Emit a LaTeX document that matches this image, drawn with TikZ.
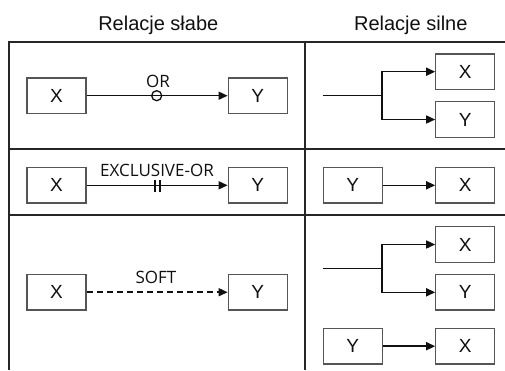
\documentclass[tikz,border=0pt]{standalone}
\usepackage{fontspec}
\setmainfont{Liberation Sans}
\newfontfamily\labelfont{Open Sans}
\usetikzlibrary{arrows.meta}
\definecolor{gridline}{HTML}{262626}
\definecolor{boxline}{HTML}{555555}
\definecolor{ink}{HTML}{101010}
\tikzset{
  grid/.style={draw=gridline, line width=1.3pt},
  entity/.style={draw=boxline, line width=1.2pt, minimum width=59pt, minimum height=35.5pt,
                 inner sep=0pt, text=ink, font=\fontsize{19}{19}\selectfont},
  link/.style={draw=ink, line width=1.5pt, -{Triangle[length=9pt,width=8pt]}},
  rel/.style={text=ink, anchor=base, inner sep=0pt, font=\labelfont\fontsize{17}{17}\selectfont},
  head/.style={text=ink, anchor=base, inner sep=0pt, font=\fontsize{20}{20}\selectfont}
}
\begin{document}
\begin{tikzpicture}[x=1pt, y=-1pt]
\useasboundingbox (0,0) rectangle (505,370);

% column headings
\node[head] (hweak) at (158.3,30) {Relacje słabe};
\node[head] (hstrong) at (410.8,30) {Relacje silne};

% table rules
\draw[grid] (9,370) -- (9,42) -- (505,42);
\draw[grid] (305,42) -- (305,370);
\draw[grid] (9,149) -- (505,149);
\draw[grid] (9,215) -- (505,215);

% weak: OR
\node[entity] (orx) at (56.5,95.7) {X};
\node[entity] (ory) at (257.7,95.7) {Y};
\draw[link] (orx) -- (ory);
\node[draw=ink, line width=1.3pt, circle, minimum size=10pt, inner sep=0pt] (orc) at (156.7,95.7) {};
\node[rel] (orl) at (158,87) {OR};

% weak: EXCLUSIVE-OR
\node[entity] (xox) at (56.5,185.3) {X};
\node[entity] (xoy) at (257.7,185.3) {Y};
\draw[link] (xox) -- (xoy);
\coordinate (t1) at (155,180);
\coordinate (t2) at (160,180);
\draw[draw=ink, line width=1.3pt] (t1) -- ++(0,11.7) (t2) -- ++(0,11.7);
\node[rel] (xol) at (157,176.7) {EXCLUSIVE-OR};

% weak: SOFT
\node[entity] (sfx) at (56.5,292.2) {X};
\node[entity] (sfy) at (257.7,292.2) {Y};
\draw[link, dash pattern=on 6pt off 4pt] (sfx) -- (sfy);
\node[rel] (sfl) at (156,283) {SOFT};

% strong: fork into X and Y
\coordinate (s1) at (322.7,95.7);
\coordinate (b1) at (382,95.7);
\node[entity] (f1x) at (465.3,71.7) {X};
\node[entity] (f1y) at (465.3,119.5) {Y};
\draw[draw=ink, line width=1.5pt] (s1) -- (b1);
\draw[link] (b1) |- (f1x.west);
\draw[link] (b1) |- (f1y.west);

% strong: Y to X
\node[entity] (d2y) at (352.8,185.3) {Y};
\node[entity] (d2x) at (465.3,185.3) {X};
\draw[link] (d2y) -- (d2x);

% strong: fork plus Y to X
\coordinate (s3) at (322.7,268.3);
\coordinate (b3) at (382,268.3);
\node[entity] (f3x) at (465.3,244.5) {X};
\node[entity] (f3y) at (465.3,292.3) {Y};
\draw[draw=ink, line width=1.5pt] (s3) -- (b3);
\draw[link] (b3) |- (f3x.west);
\draw[link] (b3) |- (f3y.west);
\node[entity] (d3y) at (352.8,346.2) {Y};
\node[entity] (d3x) at (465.3,346.2) {X};
\draw[link] (d3y) -- (d3x);
\end{tikzpicture}
\end{document}
